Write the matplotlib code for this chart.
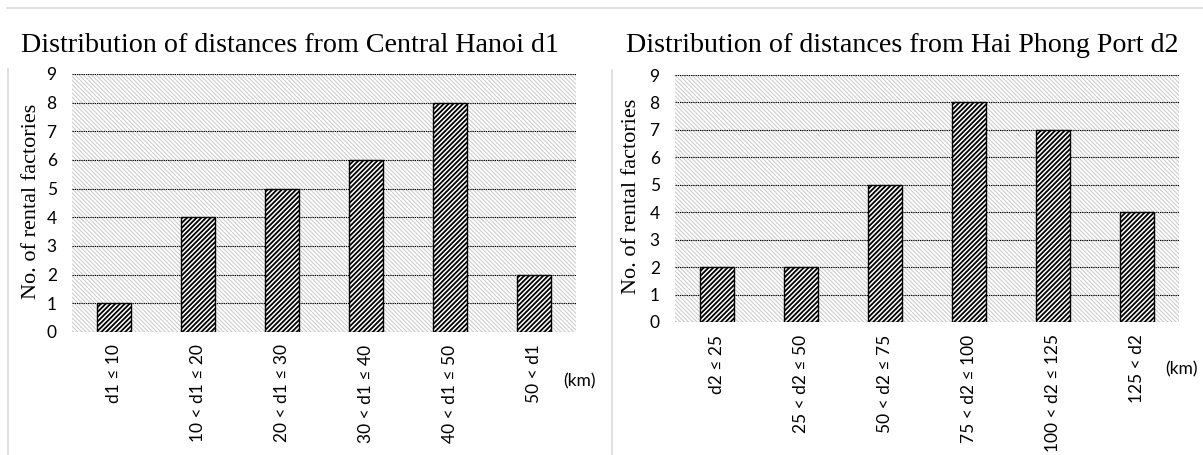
import matplotlib
matplotlib.use('Agg')
import matplotlib.pyplot as plt
from matplotlib.patches import Rectangle
from matplotlib.lines import Line2D

# chart data
hanoi_bins = ['d1 ≤ 10', '10 < d1 ≤ 20', '20 < d1 ≤ 30', '30 < d1 ≤ 40', '40 < d1 ≤ 50', '50 < d1']
hanoi_counts = [1, 4, 5, 6, 8, 2]
port_bins = ['d2 ≤ 25', '25 < d2 ≤ 50', '50 < d2 ≤ 75', '75 < d2 ≤ 100', '100 < d2 ≤ 125', '125 < d2']
port_counts = [2, 2, 5, 8, 7, 4]
y_ticks = list(range(10))
titles = ['Distribution of distances from Central Hanoi d1',
          'Distribution of distances from Hai Phong Port d2']
y_title = 'No. of rental factories'
unit_label = '(km)'

W, H = 1203, 455
SANS = ['Lato', 'DejaVu Sans']
SERIF = ['Liberation Serif', 'DejaVu Serif']
TICK_SIZE = 12.5

plt.rcParams['hatch.linewidth'] = 0.7


def box(x0, y0, x1, y1):
    # pixel box (top-left origin) -> figure fraction rect
    return [x0 / W, 1 - y1 / H, (x1 - x0) / W, (y1 - y0) / H]


def hatch_width(patch, lw):
    if hasattr(patch, 'set_hatch_linewidth'):
        patch.set_hatch_linewidth(lw)


def draw_panel(ax, bins, counts):
    # light hatched plot background
    bg = Rectangle((0, 0), 1, 1, transform=ax.transAxes, facecolor='white',
                   edgecolor='#c8c8c8', linewidth=0, hatch='\\' * 8, zorder=0)
    hatch_width(bg, 0.7)
    ax.add_patch(bg)
    ax.set_facecolor('none')
    ax.set_axisbelow(True)
    ax.grid(axis='y', color='black', linestyle=(0, (1.2, 0.8)), linewidth=0.8)
    x = list(range(len(bins)))
    bars = ax.bar(x, counts, width=0.41, color='white', edgecolor='black',
                  hatch='/' * 7, linewidth=1.0, zorder=2)
    for b in bars:
        hatch_width(b, 1.3)
    ax.set_xlim(-0.5, len(bins) - 0.5)
    ax.set_ylim(0, 9)
    ax.set_yticks(y_ticks)
    ax.set_xticks(x)
    ax.set_xticklabels(bins, rotation=90, va='top', ha='center', family=SANS, fontsize=TICK_SIZE)
    for lab in ax.get_yticklabels():
        lab.set_family(SANS)
        lab.set_fontsize(TICK_SIZE)
    ax.tick_params(axis='x', length=0, pad=9)
    ax.tick_params(axis='y', length=0, pad=11)
    for s in ax.spines.values():
        s.set_visible(False)


fig = plt.figure(figsize=(W / 100, H / 100), dpi=100)

ax1 = fig.add_axes(box(72, 74, 576, 332))
draw_panel(ax1, hanoi_bins, hanoi_counts)
ax2 = fig.add_axes(box(675, 75, 1179, 322))
draw_panel(ax2, port_bins, port_counts)

# titles, y labels and unit labels
fig.text(290 / W, 1 - 52 / H, titles[0], ha='center', va='baseline', family=SERIF, fontsize=20.2)
fig.text(902 / W, 1 - 52 / H, titles[1], ha='center', va='baseline', family=SERIF, fontsize=20.2)
fig.text(32 / W, 1 - 201 / H, y_title, rotation=90, ha='center', va='center', family=SERIF, fontsize=16)
fig.text(632 / W, 1 - 196 / H, y_title, rotation=90, ha='center', va='center', family=SERIF, fontsize=16)
fig.text(580 / W, 1 - 381 / H, unit_label, ha='center', va='center', family=SANS, fontsize=TICK_SIZE)
fig.text(1182 / W, 1 - 369 / H, unit_label, ha='center', va='center', family=SANS, fontsize=TICK_SIZE)

# thin frame lines around the two chart areas
frame = '#d9d9d9'
fig.add_artist(Line2D([7 / W, 1], [1 - 8 / H, 1 - 8 / H], color=frame, linewidth=1.2))
fig.add_artist(Line2D([8 / W, 8 / W], [0, 1 - 69 / H], color=frame, linewidth=1.2))
fig.add_artist(Line2D([612 / W, 612 / W], [0, 1 - 70 / H], color=frame, linewidth=1.2))

fig.savefig('out.png', dpi=100)
